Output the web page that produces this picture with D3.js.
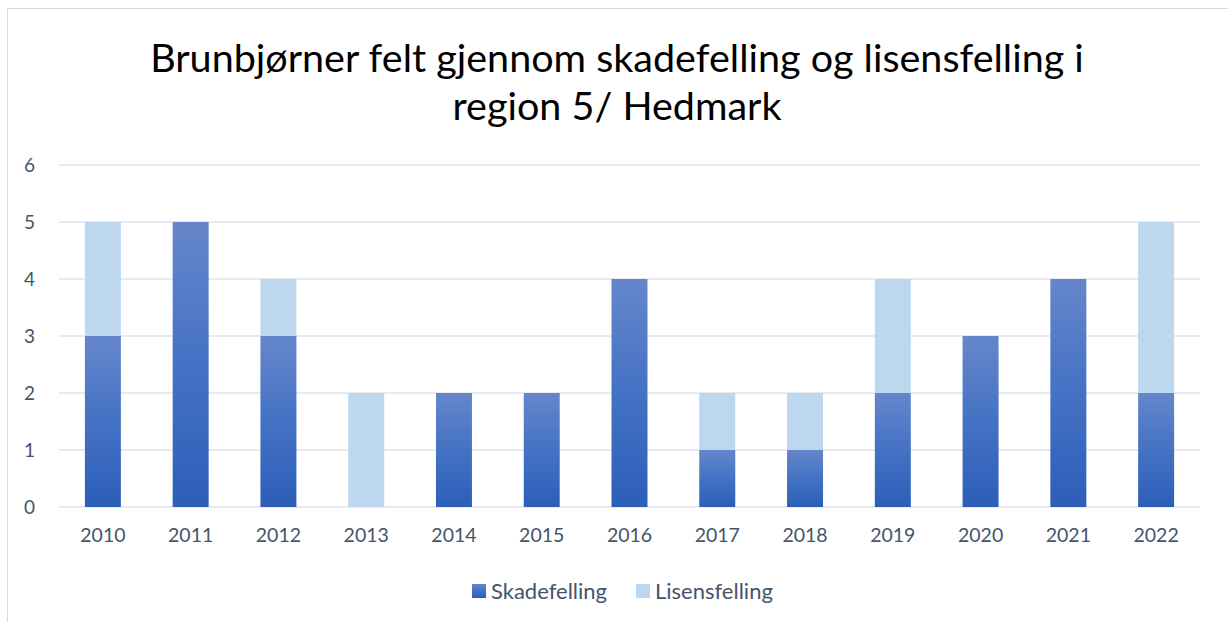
<!DOCTYPE html>
<html>
<head>
<meta charset="utf-8">
<script src="https://cdn.jsdelivr.net/npm/d3@7"></script>
<style>
  body { margin: 0; background: #fff; }
  text { font-family: Lato, "Noto Sans", sans-serif; }
</style>
</head>
<body>
<svg id="chart" width="1228" height="622"></svg>
<script>
const years = ["2010","2011","2012","2013","2014","2015","2016","2017","2018","2019","2020","2021","2022"];
const skadefelling = [3,5,3,0,2,2,4,1,1,2,3,4,2];
const lisensfelling = [2,0,1,2,0,0,0,1,1,2,0,0,3];
const seriesNames = ["Skadefelling", "Lisensfelling"];
const yTicks = [0,1,2,3,4,5,6];

const svg = d3.select("#chart"),
    margin = {top: 165, right: 28, bottom: 115, left: 59},
    width = +svg.attr("width") - margin.left - margin.right,
    height = +svg.attr("height") - margin.top - margin.bottom;

// chart frame
svg.append("rect")
    .attr("x", 7.5).attr("y", 8.5)
    .attr("width", 1240).attr("height", 640)
    .attr("fill", "none")
    .attr("stroke", "#d9d9d9");

// gradient for the dark series, one per segment
const defs = svg.append("defs");
const grad = defs.append("linearGradient")
    .attr("id", "skadeGrad")
    .attr("x1", 0).attr("y1", 0).attr("x2", 0).attr("y2", 1);
grad.append("stop").attr("offset", "0%").attr("stop-color", "#6686cb");
grad.append("stop").attr("offset", "50%").attr("stop-color", "#4472c4");
grad.append("stop").attr("offset", "100%").attr("stop-color", "#2d5eb8");

svg.append("text")
    .attr("x", 617).attr("y", 72)
    .attr("text-anchor", "middle")
    .attr("font-size", 39.5)
    .attr("fill", "#000")
    .text("Brunbjørner felt gjennom skadefelling og lisensfelling i");
svg.append("text")
    .attr("x", 617).attr("y", 120)
    .attr("text-anchor", "middle")
    .attr("font-size", 39.5)
    .attr("fill", "#000")
    .text("region 5/ Hedmark");

const x = d3.scaleBand().domain(years).range([0, width]).paddingInner(0.59).paddingOuter(0.295),
    y = d3.scaleLinear().domain([0, 6]).range([height, 0]);

const g = svg.append("g").attr("transform", "translate(" + margin.left + "," + margin.top + ")");

// gridlines
g.selectAll(".grid")
    .data(yTicks)
    .enter().append("line")
        .attr("x1", 0).attr("x2", width)
        .attr("y1", d => y(d)).attr("y2", d => y(d))
        .attr("stroke", "#dfe3ea")
        .attr("stroke-width", 1.5);

// y axis labels
g.append("g")
    .call(d3.axisLeft(y).tickValues(yTicks).tickFormat(d3.format("d")).tickSize(0).tickPadding(24))
    .call(a => a.select(".domain").remove())
    .selectAll("text")
        .attr("font-size", 19)
        .attr("fill", "#44546a")
        .style("font-family", "Lato, 'Noto Sans', sans-serif");

// x axis labels
g.append("g")
    .attr("transform", "translate(0," + height + ")")
    .call(d3.axisBottom(x).tickSize(0).tickPadding(21))
    .call(a => a.select(".domain").remove())
    .selectAll("text")
        .attr("font-size", 19.5)
        .attr("fill", "#44546a")
        .style("font-family", "Lato, 'Noto Sans', sans-serif");

const table = years.map((yr, i) => ({year: yr, Skadefelling: skadefelling[i], Lisensfelling: lisensfelling[i]}));
const stacked = d3.stack().keys(seriesNames)(table);
const fills = {Skadefelling: "url(#skadeGrad)", Lisensfelling: "#bdd7ee"};

g.selectAll(".series")
    .data(stacked)
    .enter().append("g")
        .attr("fill", d => fills[d.key])
    .selectAll("rect")
    .data(d => d.filter(s => s[1] > s[0]))
    .enter().append("rect")
        .attr("x", d => x(d.data.year))
        .attr("y", d => y(d[1]))
        .attr("width", x.bandwidth())
        .attr("height", d => y(d[0]) - y(d[1]));

// legend
const legend = svg.append("g").attr("transform", "translate(472,584)");
const items = [{name: "Skadefelling", dx: 0}, {name: "Lisensfelling", dx: 164}];
items.forEach(it => {
    const lg = legend.append("g").attr("transform", "translate(" + it.dx + ",0)");
    lg.append("rect").attr("width", 14).attr("height", 14).attr("fill", fills[it.name]);
    lg.append("text")
        .attr("x", 19).attr("y", 15)
        .attr("font-size", 22)
        .attr("fill", "#44546a")
        .text(it.name);
});
</script>
</body>
</html>
